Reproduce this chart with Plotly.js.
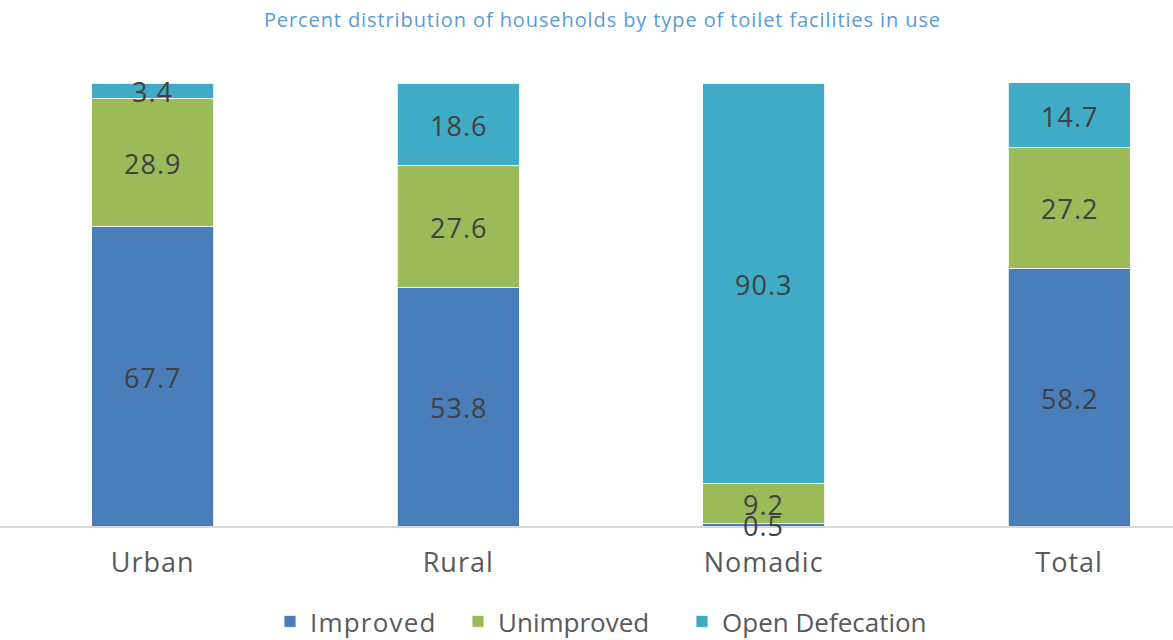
<!DOCTYPE html>
<html>
<head>
<meta charset="utf-8">
<script src="https://cdn.plot.ly/plotly-3.0.1.min.js"></script>
<style>
html,body{margin:0;padding:0;background:#fff;}
#chart{width:1173px;height:640px;}
.gtitle{letter-spacing:0.9px;}
.legendtext{letter-spacing:1.2px;}
.xtick text{letter-spacing:1px;}
.annotation-text{letter-spacing:1px;}
</style>
</head>
<body>
<div id="chart"></div>
<script>
const categories = ["Urban", "Rural", "Nomadic", "Total"];
const improved = [67.7, 53.8, 0.5, 58.2];
const unimproved = [28.9, 27.6, 9.2, 27.2];
const openDefecation = [3.4, 18.6, 90.3, 14.7];
const seriesNames = ["Improved", "Unimproved", "Open Defecation"];
const colors = ["#4a7ebb", "#9bbb59", "#3fabc6"];
const titleText = "Percent distribution of households by type of toilet facilities in use";

const FONT = "Open Sans, sans-serif";
const series = [improved, unimproved, openDefecation];
const legendIds = ["legend", "legend2", "legend3"];

const data = [];
series.forEach((vals, i) => {
  data.push({
    type: "bar", name: seriesNames[i], x: categories, y: vals,
    marker: {color: colors[i], line: {color: "#ffffff", width: 0.8}},
    width: 0.4, hoverinfo: "none", legend: legendIds[i]
  });
});

// value labels centred in each stacked segment
const annotations = [];
series.forEach((vals, i) => {
  vals.forEach((v, k) => {
    let base = 0;
    for (let j = 0; j < i; j++) base += series[j][k];
    annotations.push({
      x: categories[k], y: base + v / 2, xref: "x", yref: "y",
      text: v.toFixed(1), showarrow: false, xanchor: "center", yanchor: "middle",
      yshift: -1, font: {family: FONT, size: 27, color: "#404040"}
    });
  });
});

function pxX(p) { return p / 1173; }
const legendBase = {orientation: "h", xanchor: "left", y: -0.1625, yanchor: "top",
  font: {family: FONT, size: 26, color: "#595959"}, itemwidth: 30, bgcolor: "rgba(0,0,0,0)"};

const layout = {
  width: 1173, height: 640,
  margin: {l: 0, r: 0, t: 83, b: 114, autoexpand: false},
  barmode: "stack",
  paper_bgcolor: "#ffffff", plot_bgcolor: "#ffffff",
  title: {text: titleText, font: {family: FONT, size: 20, color: "#5b9bd5"},
          x: 0.5136, xanchor: "center", y: 1 - 20/640, yanchor: "middle", yref: "container"},
  xaxis: {range: [-0.5, 3.34], showline: true, linecolor: "#d9d9d9", linewidth: 2,
          showgrid: false, zeroline: false, ticks: "", ticklabelstandoff: 12,
          tickfont: {family: FONT, size: 27, color: "#595959"}},
  yaxis: {range: [0, 100], visible: false, showgrid: false, zeroline: false},
  annotations: annotations,
  showlegend: true,
  legend: Object.assign({}, legendBase, {x: pxX(270)}),
  legend2: Object.assign({}, legendBase, {x: pxX(458)}),
  legend3: Object.assign({}, legendBase, {x: pxX(682)})
};
Plotly.newPlot("chart", data, layout, {displayModeBar: false, staticPlot: true});
</script>
</body>
</html>
